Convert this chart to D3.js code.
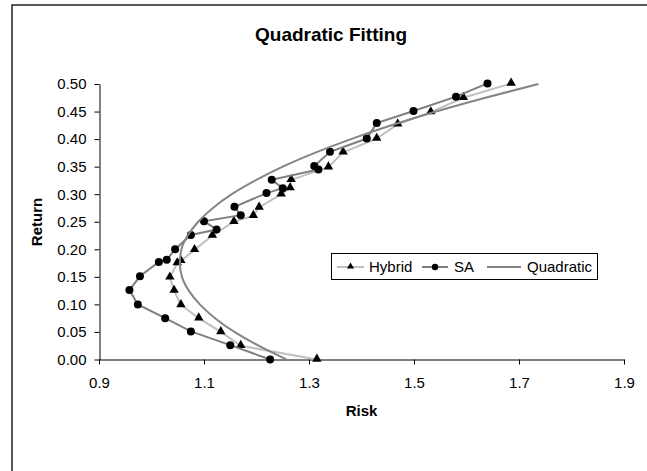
<!DOCTYPE html>
<html lang="en">

<head>
    <meta charset="UTF-8">
    <title>Quadratic Fitting</title>

    <script src="https://d3js.org/d3.v7.min.js"></script>

    <style>
        body {
            margin: 0;
            background: #fff;
        }

        text {
            font-family: "Liberation Sans", Arial, sans-serif;
        }
    </style>

</head>

<body>
    <svg width="647" height="471"></svg>

    <script>
        // values
        const hybridRisk = [1.315, 1.170, 1.132, 1.090, 1.056, 1.043, 1.035, 1.049, 1.056, 1.082,
            1.116, 1.157, 1.194, 1.205, 1.247, 1.264, 1.266, 1.337, 1.365, 1.429, 1.469, 1.532,
            1.594, 1.685];
        const hybridReturn = [0.000, 0.025, 0.050, 0.075, 0.099, 0.125, 0.149, 0.175, 0.179, 0.199,
            0.225, 0.250, 0.261, 0.276, 0.300, 0.311, 0.326, 0.349, 0.376, 0.401, 0.427, 0.449,
            0.475, 0.501];

        const saRisk = [1.226, 1.150, 1.075, 1.026, 0.974, 0.958, 0.978, 1.014, 1.029, 1.045,
            1.075, 1.124, 1.100, 1.170, 1.158, 1.219, 1.250, 1.229, 1.318, 1.310, 1.340, 1.410,
            1.429, 1.499, 1.580, 1.640];
        const saReturn = [0.000, 0.026, 0.051, 0.075, 0.100, 0.126, 0.151, 0.177, 0.181, 0.200,
            0.226, 0.236, 0.251, 0.262, 0.277, 0.302, 0.311, 0.326, 0.345, 0.351, 0.377, 0.401,
            0.429, 0.451, 0.477, 0.501];

        const quadRisk = [1.257, 1.204, 1.158, 1.121, 1.092, 1.071, 1.058, 1.054, 1.057, 1.069,
            1.089, 1.117, 1.153, 1.198, 1.250, 1.311, 1.380, 1.457, 1.542, 1.636, 1.737];
        const quadReturn = [0.000, 0.025, 0.050, 0.075, 0.100, 0.125, 0.150, 0.175, 0.200, 0.225,
            0.250, 0.275, 0.300, 0.325, 0.350, 0.375, 0.400, 0.425, 0.450, 0.475, 0.500];

        const xTicks = [0.9, 1.1, 1.3, 1.5, 1.7, 1.9];
        const yTicks = [0, 0.05, 0.1, 0.15, 0.2, 0.25, 0.3, 0.35, 0.4, 0.45, 0.5];
        const seriesNames = ["Hybrid", "SA", "Quadratic"];

        let svg = d3.select("svg");

        // chart frame (runs off the right and bottom edge)
        svg.append("rect")
            .attr("x", 12).attr("y", 5)
            .attr("width", 700).attr("height", 500)
            .attr("fill", "#fff")
            .attr("stroke", "#222")
            .attr("stroke-width", 1.5);

        const x = d3.scaleLinear().domain([0.9, 1.9]).range([99, 624]);
        const y = d3.scaleLinear().domain([0, 0.5]).range([359.5, 84]);

        svg.append("text")
            .attr("x", 331).attr("y", 41)
            .attr("text-anchor", "middle")
            .attr("font-size", "19px")
            .attr("font-weight", "bold")
            .text("Quadratic Fitting");

        // axes
        let yAxis = svg.append("g")
            .attr("transform", "translate(99.5,0)")
            .call(d3.axisLeft(y).tickValues(yTicks).tickFormat(d3.format(".2f"))
                .tickSize(5).tickSizeOuter(0).tickPadding(8));

        let xAxis = svg.append("g")
            .attr("transform", "translate(0,359.5)")
            .call(d3.axisBottom(x).tickValues(xTicks).tickFormat(d3.format(".1f"))
                .tickSize(5).tickSizeOuter(0).tickPadding(13));

        [xAxis, yAxis].forEach(function (g) {
            g.selectAll("text")
                .attr("font-size", "15px")
                .attr("font-family", "'Liberation Sans', Arial, sans-serif")
                .attr("fill", "#000");
            g.selectAll("line, path").attr("stroke", "#000");
        });

        svg.append("text")
            .attr("transform", "translate(42,222) rotate(-90)")
            .attr("text-anchor", "middle")
            .attr("font-size", "15px")
            .attr("font-weight", "bold")
            .text("Return");

        svg.append("text")
            .attr("x", 361.5).attr("y", 416)
            .attr("text-anchor", "middle")
            .attr("font-size", "15px")
            .attr("font-weight", "bold")
            .text("Risk");

        const triangle = d3.symbol().type(d3.symbolTriangle).size(38);

        function drawSeries(risk, ret, color, marker, curve) {
            let pts = risk.map(function (r, i) { return [r, ret[i]]; });
            let line = d3.line()
                .x(function (d) { return x(d[0]); })
                .y(function (d) { return y(d[1]); })
                .curve(curve);
            svg.append("path")
                .datum(pts)
                .attr("d", line)
                .attr("fill", "none")
                .attr("stroke", color)
                .attr("stroke-width", 2);
            if (marker === "triangle") {
                svg.append("g").selectAll("path")
                    .data(pts)
                    .enter()
                    .append("path")
                    .attr("d", triangle)
                    .attr("transform", function (d) { return "translate(" + x(d[0]) + "," + (y(d[1]) - 0.5) + ")"; })
                    .attr("fill", "#000");
            } else if (marker === "circle") {
                svg.append("g").selectAll("circle")
                    .data(pts)
                    .enter()
                    .append("circle")
                    .attr("cx", function (d) { return x(d[0]); })
                    .attr("cy", function (d) { return y(d[1]); })
                    .attr("r", 4)
                    .attr("fill", "#000");
            }
        }

        drawSeries(hybridRisk, hybridReturn, "#c0c0c0", "triangle", d3.curveLinear);
        drawSeries(saRisk, saReturn, "#7f7f7f", "circle", d3.curveLinear);
        drawSeries(quadRisk, quadReturn, "#858585", "none", d3.curveMonotoneY);

        // legend
        let legend = svg.append("g");
        legend.append("rect")
            .attr("x", 331.5).attr("y", 253.5)
            .attr("width", 266).attr("height", 26)
            .attr("fill", "#fff")
            .attr("stroke", "#000");

        const legendItems = [
            { name: seriesNames[0], color: "#c0c0c0", marker: "triangle", x0: 337, x1: 364, tx: 369 },
            { name: seriesNames[1], color: "#7f7f7f", marker: "circle", x0: 422, x1: 448, tx: 454 },
            { name: seriesNames[2], color: "#858585", marker: "none", x0: 487, x1: 521, tx: 527 }
        ];
        const ly = 267;
        legendItems.forEach(function (d) {
            legend.append("line")
                .attr("x1", d.x0).attr("x2", d.x1)
                .attr("y1", ly).attr("y2", ly)
                .attr("stroke", d.color)
                .attr("stroke-width", 2);
            let mx = (d.x0 + d.x1) / 2;
            if (d.marker === "triangle") {
                legend.append("path")
                    .attr("d", d3.symbol().type(d3.symbolTriangle).size(22))
                    .attr("transform", "translate(" + mx + "," + (ly - 0.5) + ")");
            } else if (d.marker === "circle") {
                legend.append("circle")
                    .attr("cx", mx).attr("cy", ly).attr("r", 3.2);
            }
            legend.append("text")
                .attr("x", d.tx).attr("y", ly + 5)
                .attr("font-size", "15px")
                .text(d.name);
        });
    </script>
</body>

</html>
